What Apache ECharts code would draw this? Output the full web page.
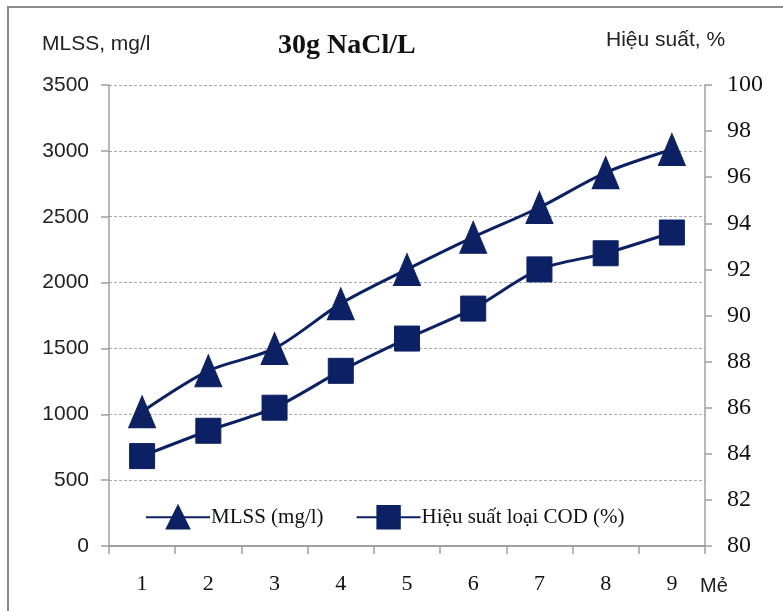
<!DOCTYPE html>
<html>
<head>
<meta charset="utf-8">
<script src="https://cdn.jsdelivr.net/npm/echarts@6/dist/echarts.min.js"></script>
<style>
html,body{margin:0;padding:0;background:#fff;}
#chart{width:783px;height:611px;}
</style>
</head>
<body>
<div id="chart"></div>
<script>
// du lieu doc tu hinh
var categories = ['1', '2', '3', '4', '5', '6', '7', '8', '9'];
var mlssValues = [1020, 1330, 1500, 1840, 2100, 2345, 2570, 2835, 3010];
var codValues = [83.9, 85.0, 86.0, 87.6, 89.0, 90.3, 92.0, 92.7, 93.6];
var leftTicks = {min: 0, max: 3500, interval: 500};
var rightTicks = {min: 80, max: 100, interval: 2};

var navy = '#0b2163';
var axisGray = '#a0a0a0';

var chart = echarts.init(document.getElementById('chart'));

var option = {
    backgroundColor: '#fff',
    animation: false,
    grid: {
        left: 109,
        right: 78,
        top: 85,
        bottom: 65
    },
    graphic: [
        {   // khung ngoai
            type: 'rect',
            shape: {x: 8, y: 7, width: 800, height: 620},
            style: {fill: 'none', stroke: '#8c8c8c', lineWidth: 2},
            z: 0
        },
        {
            type: 'text', left: 42, top: 34,
            style: {text: 'MLSS, mg/l', font: '21px "Liberation Sans", Arial', fill: '#222'}
        },
        {
            type: 'text', left: 278, top: 32,
            style: {text: '30g NaCl/L', font: 'bold 28px "Liberation Serif", "Times New Roman"', fill: '#111'}
        },
        {
            type: 'text', left: 606, top: 30,
            style: {text: 'Hiệu suất, %', font: '21px "Liberation Sans", Arial', fill: '#222'}
        },
        {
            type: 'text', left: 700, top: 576,
            style: {text: 'Mẻ', font: '20px "Liberation Sans", Arial', fill: '#222'}
        }
    ],
    legend: {
        left: 140,
        top: 500,
        itemWidth: 64,
        itemHeight: 28,
        itemGap: 32,
        textStyle: {
            fontFamily: '"Liberation Serif", "Times New Roman"',
            fontSize: 21,
            color: '#111',
            padding: [0, 0, 0, -4]
        },
        data: ['MLSS (mg/l)', 'Hiệu suất loại COD (%)']
    },
    xAxis: {
        type: 'category',
        data: categories,
        boundaryGap: true,
        axisLine: {lineStyle: {color: axisGray, width: 2}},
        axisTick: {show: true, length: 8, inside: false, lineStyle: {color: axisGray, width: 1.5}},
        axisLabel: {
            margin: 27,
            fontFamily: '"Liberation Serif", "Times New Roman"',
            fontSize: 22,
            color: '#111'
        },
        splitLine: {show: false}
    },
    yAxis: [
        {
            type: 'value',
            min: leftTicks.min,
            max: leftTicks.max,
            interval: leftTicks.interval,
            position: 'left',
            axisLine: {show: true, lineStyle: {color: axisGray, width: 1.5}},
            axisTick: {show: true, length: 8, lineStyle: {color: axisGray, width: 1.5}},
            axisLabel: {
                margin: 20,
                fontFamily: '"Liberation Sans", Arial',
                fontSize: 21,
                color: '#222',
                formatter: function (v) { return String(v); }
            },
            splitLine: {show: true, lineStyle: {color: '#aaa', type: [3, 2], width: 1}}
        },
        {
            type: 'value',
            min: rightTicks.min,
            max: rightTicks.max,
            interval: rightTicks.interval,
            position: 'right',
            axisLine: {show: true, lineStyle: {color: axisGray, width: 1.5}},
            axisTick: {show: true, length: 7, lineStyle: {color: axisGray, width: 1.5}},
            axisLabel: {
                margin: 22,
                fontFamily: '"Liberation Serif", "Times New Roman"',
                fontSize: 24,
                color: '#111'
            },
            splitLine: {show: false}
        }
    ],
    series: [
        {
            name: 'MLSS (mg/l)',
            type: 'line',
            yAxisIndex: 0,
            data: mlssValues,
            smooth: 0.3,
            symbol: 'triangle',
            symbolSize: [27, 32],
            lineStyle: {color: navy, width: 3},
            itemStyle: {color: navy, borderColor: navy, borderWidth: 1}
        },
        {
            name: 'Hiệu suất loại COD (%)',
            type: 'line',
            yAxisIndex: 1,
            data: codValues,
            smooth: 0.3,
            symbol: 'rect',
            symbolSize: 25,
            lineStyle: {color: navy, width: 3},
            itemStyle: {color: navy, borderColor: navy, borderWidth: 1}
        }
    ]
};

chart.setOption(option);
</script>
</body>
</html>
